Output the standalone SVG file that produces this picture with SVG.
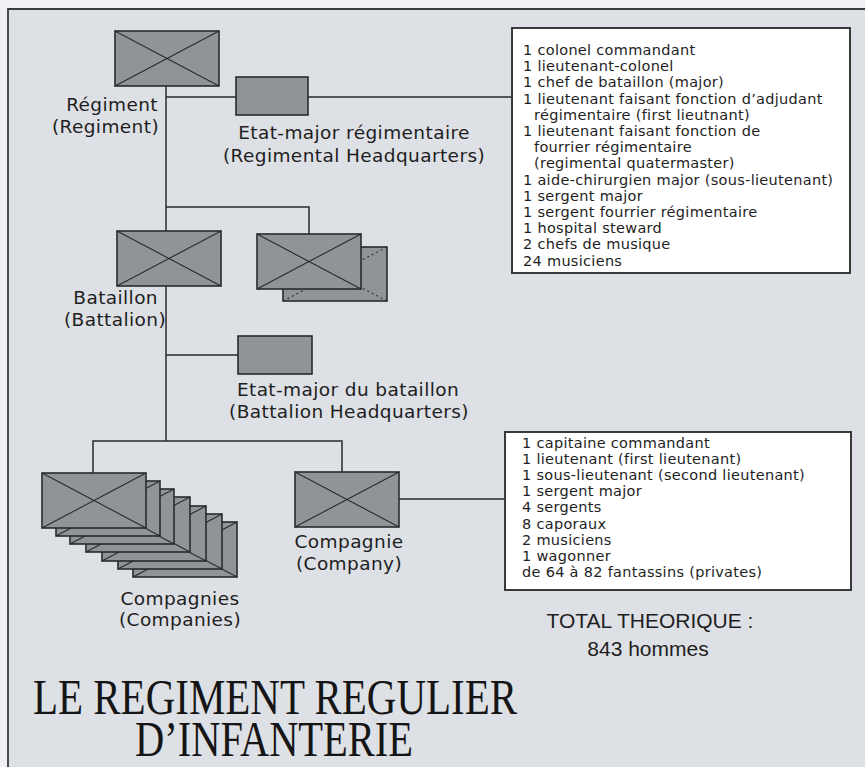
<svg xmlns="http://www.w3.org/2000/svg" width="865" height="767" viewBox="0 0 865 767">
<defs>
<style>
.bg{fill:#dde0e5}
.box{fill:#8f9499;stroke:#2a2a2a;stroke-width:1.6}
.diag{stroke:#2a2a2a;stroke-width:1.1;fill:none}
.dot{stroke:#2a2a2a;stroke-width:1.1;fill:none;stroke-dasharray:2 3}
.con{stroke:#2a2a2a;stroke-width:1.5;fill:none}
.info{fill:#ffffff;stroke:#3a3a3a;stroke-width:2}
.lbl{font-family:"DejaVu Sans","Open Sans",sans-serif;font-size:18.5px;fill:#1e1e1e;letter-spacing:0.4px}
.sm{font-family:"DejaVu Sans","Open Sans",sans-serif;font-size:14.5px;fill:#1e1e1e;letter-spacing:0.3px}
.title{font-family:"Liberation Serif",serif;font-size:50px;fill:#151515}
.tot{font-family:"Liberation Sans",sans-serif;font-size:21px;fill:#1e1e1e}
</style>
<g id="unit">
<rect class="box" x="0" y="0" width="104" height="55"/>
<path class="diag" d="M0 0L104 55M0 55L104 0"/>
</g>
</defs>
<rect x="0" y="0" width="865" height="767" fill="#eef0f3"/>
<rect class="bg" x="8" y="9" width="857" height="758"/>
<path d="M8 767V9H865" stroke="#3a3a3a" stroke-width="1.8" fill="none"/>

<g id="connectors">
<path class="con" d="M166 85V441"/>
<path class="con" d="M166 97H236M308 97H512"/>
<path class="con" d="M166 207H309V234"/>
<path class="con" d="M166 355H238"/>
<path class="con" d="M93 473V441H342V472"/>
<path class="con" d="M399 499H505"/>
</g>

<g id="regiment">
<use href="#unit" x="115" y="31"/>
<text class="lbl" x="158" y="111" text-anchor="end">Régiment</text>
<text class="lbl" x="159" y="133" text-anchor="end">(Regiment)</text>
</g>

<g id="regimental-hq">
<rect class="box" x="236" y="77" width="72" height="38"/>
<text class="lbl" x="354" y="139" text-anchor="middle">Etat-major régimentaire</text>
<text class="lbl" x="354" y="162" text-anchor="middle">(Regimental Headquarters)</text>
</g>

<g id="regimental-hq-list">
<rect class="info" x="512" y="28" width="338" height="245"/>
<text class="sm" x="523" y="55">1 colonel commandant</text>
<text class="sm" x="523" y="71.2">1 lieutenant-colonel</text>
<text class="sm" x="523" y="87.4">1 chef de bataillon (major)</text>
<text class="sm" x="523" y="103.6">1 lieutenant faisant fonction d’adjudant</text>
<text class="sm" x="534" y="119.8">régimentaire (first lieutnant)</text>
<text class="sm" x="523" y="136">1 lieutenant faisant fonction de</text>
<text class="sm" x="534" y="152.2">fourrier régimentaire</text>
<text class="sm" x="534" y="168.4">(regimental quatermaster)</text>
<text class="sm" x="523" y="184.6">1 aide-chirurgien major (sous-lieutenant)</text>
<text class="sm" x="523" y="200.8">1 sergent major</text>
<text class="sm" x="523" y="217">1 sergent fourrier régimentaire</text>
<text class="sm" x="523" y="233.2">1 hospital steward</text>
<text class="sm" x="523" y="249.4">2 chefs de musique</text>
<text class="sm" x="523" y="265.6">24 musiciens</text>
</g>

<g id="battalion">
<use href="#unit" x="117" y="231"/>
<text class="lbl" x="158" y="304" text-anchor="end">Bataillon</text>
<text class="lbl" x="166" y="326" text-anchor="end">(Battalion)</text>
</g>

<g id="battalions">
<rect class="box" x="283" y="247" width="104" height="54"/>
<path class="dot" d="M283 247L387 301M283 301L387 247"/>
<use href="#unit" x="257" y="234"/>
</g>

<g id="battalion-hq">
<rect class="box" x="238" y="336" width="74" height="38"/>
<text class="lbl" x="348" y="396" text-anchor="middle">Etat-major du bataillon</text>
<text class="lbl" x="349" y="418" text-anchor="middle">(Battalion Headquarters)</text>
</g>

<g id="companies">
<use href="#unit" x="133" y="522"/>
<use href="#unit" x="118" y="514"/>
<use href="#unit" x="102" y="506"/>
<use href="#unit" x="86" y="497"/>
<use href="#unit" x="70" y="489"/>
<use href="#unit" x="56" y="481"/>
<use href="#unit" x="42" y="473"/>
<text class="lbl" x="180" y="605" text-anchor="middle">Compagnies</text>
<text class="lbl" x="180" y="626" text-anchor="middle">(Companies)</text>
</g>

<g id="company">
<use href="#unit" x="295" y="472"/>
<text class="lbl" x="349" y="548" text-anchor="middle">Compagnie</text>
<text class="lbl" x="349" y="570" text-anchor="middle">(Company)</text>
</g>

<g id="company-list">
<rect class="info" x="505" y="432" width="346" height="158"/>
<text class="sm" x="522" y="448">1 capitaine commandant</text>
<text class="sm" x="522" y="464.1">1 lieutenant (first lieutenant)</text>
<text class="sm" x="522" y="480.2">1 sous-lieutenant (second lieutenant)</text>
<text class="sm" x="522" y="496.3">1 sergent major</text>
<text class="sm" x="522" y="512.4">4 sergents</text>
<text class="sm" x="522" y="528.5">8 caporaux</text>
<text class="sm" x="522" y="544.6">2 musiciens</text>
<text class="sm" x="522" y="560.7">1 wagonner</text>
<text class="sm" x="522" y="576.8">de 64 à 82 fantassins (privates)</text>
</g>

<g id="total">
<text class="tot" x="650" y="628" text-anchor="middle">TOTAL THEORIQUE :</text>
<text class="tot" x="648" y="656" text-anchor="middle">843 hommes</text>
</g>

<g id="title">
<text class="title" x="275" y="714" text-anchor="middle" textLength="484" lengthAdjust="spacingAndGlyphs">LE REGIMENT REGULIER</text>
<text class="title" x="274" y="756" text-anchor="middle" textLength="278" lengthAdjust="spacingAndGlyphs">D’INFANTERIE</text>
</g>
</svg>
